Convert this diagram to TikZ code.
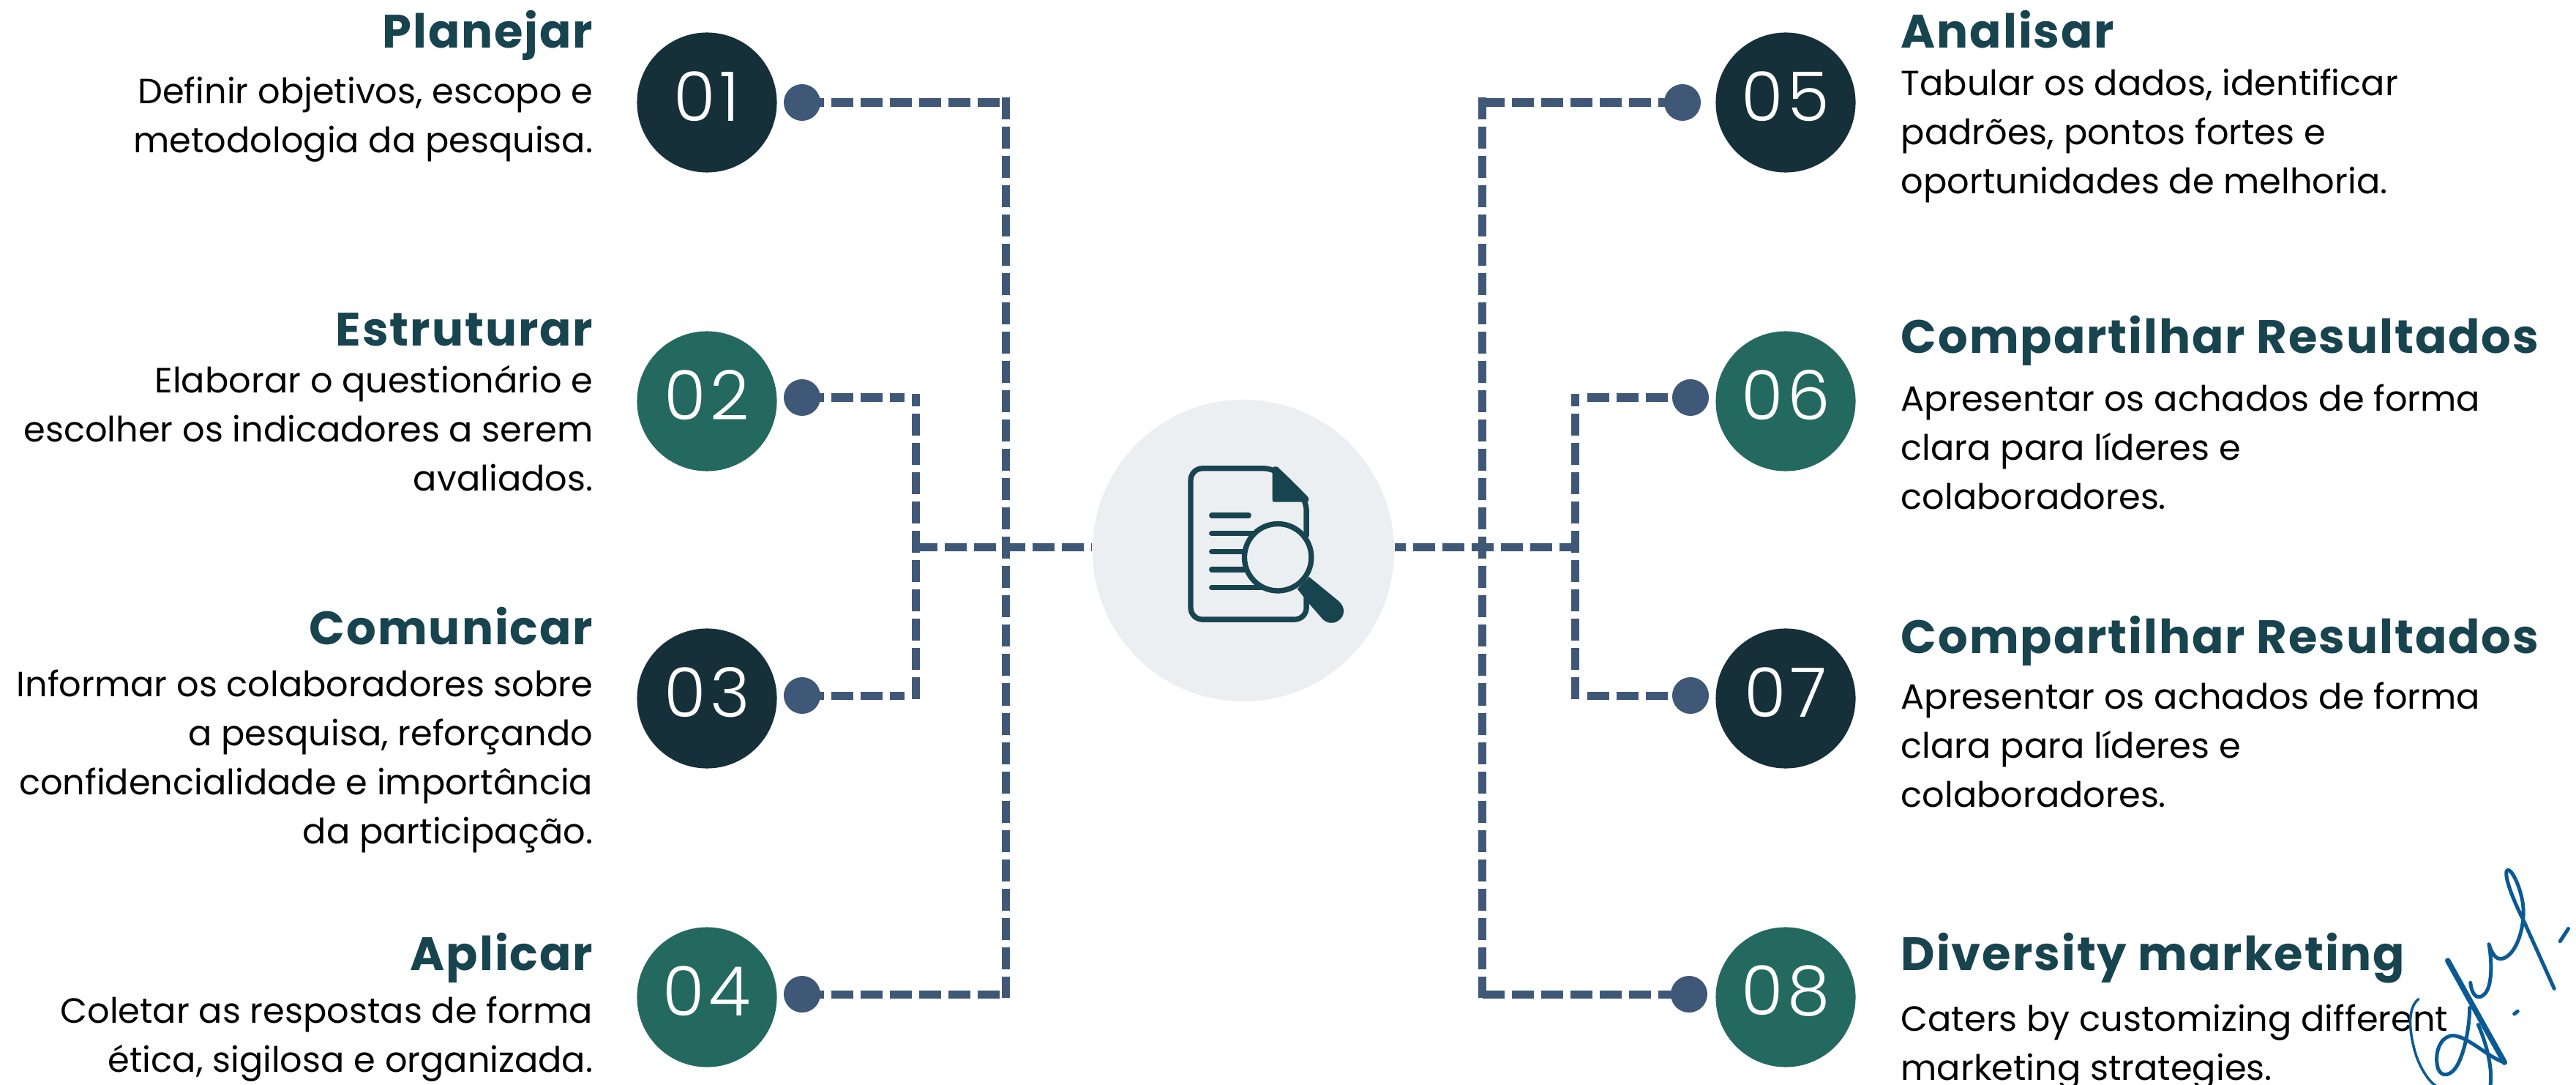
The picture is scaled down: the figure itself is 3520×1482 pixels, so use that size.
\documentclass[tikz,border=0pt]{standalone}
\usepackage{fontspec}
\setmainfont{Poppins}
\newfontfamily\titlefont[LetterSpace=3]{Poppins}
\newfontfamily\numfont[LetterSpace=6]{Poppins Light}
\definecolor{nightteal}{HTML}{16303A}
\definecolor{seateal}{HTML}{24695F}
\definecolor{dotblue}{HTML}{3F5878}
\definecolor{titleteal}{HTML}{17444F}
\definecolor{hubgrey}{HTML}{ECEFF2}
\definecolor{inkblue}{HTML}{0B5A94}
\tikzset{
    stepdisc/.style={circle,inner sep=0pt,minimum size=1.91cm},
    stepnum/.style={inner sep=0pt,text=white,font=\numfont\fontsize{26.5}{26.5}\selectfont},
    stepdot/.style={circle,inner sep=0pt,minimum size=0.5cm,fill=dotblue},
    hubdisc/.style={circle,inner sep=0pt,minimum size=4.12cm,fill=hubgrey},
    linkline/.style={draw=dotblue,line width=0.11cm,dash pattern=on 0.3cm off 0.1cm},
    steptitle/.style={inner sep=0pt,text=titleteal,font=\titlefont\bfseries\fontsize{18.2}{22}\selectfont},
    stepbody/.style={inner sep=0pt,font=\fontsize{13.6}{19.05}\selectfont},
    iconline/.style={draw=titleteal,line width=0.073cm,line cap=round},
    signline/.style={draw=inkblue,line width=0.05cm,line cap=round,line join=round}
}
\begin{document}
\begin{tikzpicture}[x=0.01cm,y=-0.01cm]
    \useasboundingbox (0,0) rectangle (3520,1482);
    \clip (0,0) rectangle (3520,1482);

    % Draw centre disc
    \node[hubdisc] (hub) at (1699,752) {};

    % Draw numbered discs and their dots
    \foreach \n/\cx/\cy/\dx/\dy/\col in {
        01/966/140/1096/140/nightteal,
        02/966/548/1096/543/seateal,
        03/966/954/1096/950/nightteal,
        04/966/1362/1096/1358/seateal,
        05/2440/140/2299/140/nightteal,
        06/2440/548/2310/543/seateal,
        07/2440/954/2310/950/nightteal,
        08/2440/1362/2308/1358/seateal} {
        \node[stepdisc,fill=\col] (c\n) at (\cx,\cy) {};
        \node[stepnum] (n\n) at (\cx,\cy-8) {\n};
        \node[stepdot] (d\n) at (\dx,\dy) {};
    }

    % Ends of the dashed lines
    \coordinate (a1) at (1369,140);
    \coordinate (a2) at (1367,1358);
    \coordinate (a3) at (1374,133);
    \coordinate (a4) at (1374,1363);
    \coordinate (b1) at (1236,543);
    \coordinate (b2) at (1236,950);
    \coordinate (b3) at (1251,538);
    \coordinate (b4) at (1251,955);
    \coordinate (bm) at (1251,747);
    \coordinate (e1) at (2026,140);
    \coordinate (e2) at (2026,1358);
    \coordinate (e3) at (2025,133);
    \coordinate (e4) at (2025,1363);
    \coordinate (f1) at (2169,543);
    \coordinate (f2) at (2169,950);
    \coordinate (f3) at (2152,538);
    \coordinate (f4) at (2152,955);
    \coordinate (fm) at (2157,747);

    % Draw dashed lines on the left
    \draw[linkline] (d01.center) -- (a1);
    \draw[linkline] (d04.center) -- (a2);
    \draw[linkline] (a3) -- (a4);
    \draw[linkline] (d02.center) -- (b1);
    \draw[linkline] (d03.center) -- (b2);
    \draw[linkline] (b4) -- (b3);
    \draw[linkline] (bm) -- (bm -| hub.west);

    % Draw dashed lines on the right
    \draw[linkline] (e1) -- (d05.center);
    \draw[linkline] (e2) -- (d08.center);
    \draw[linkline] (e3) -- (e4);
    \draw[linkline] (f1) -- (d06.center);
    \draw[linkline] (f2) -- (d07.center);
    \draw[linkline] (f4) -- (f3);
    \draw[linkline,dash phase=0.04cm] (fm) -- (fm -| hub.east);

    % Left column texts
    \node[steptitle,anchor=base east] (t01) at (811,66) {Planejar};
    \node[stepbody,anchor=north east,align=right] (x01) at (811,104) {Definir objetivos, escopo e\\metodologia da pesquisa.};
    \node[steptitle,anchor=base east] (t02) at (811,472) {Estruturar};
    \node[stepbody,anchor=north east,align=right] (x02) at (811,498) {Elaborar o questionário e\\escolher os indicadores a serem\\avaliados.};
    \node[steptitle,anchor=base east] (t03) at (811,880) {Comunicar};
    \node[stepbody,anchor=north east,align=right] (x03) at (811,914) {Informar os colaboradores sobre\\a pesquisa, reforçando\\confidencialidade e importância\\da participação.};
    \node[steptitle,anchor=base east] (t04) at (811,1325) {Aplicar};
    \node[stepbody,anchor=north east,align=right] (x04) at (811,1360) {Coletar as respostas de forma\\ética, sigilosa e organizada.};

    % Right column texts
    \node[steptitle,anchor=base west] (t05) at (2597,66) {Analisar};
    \node[stepbody,anchor=north west,align=left] (x05) at (2597,93) {Tabular os dados, identificar\\padrões, pontos fortes e\\oportunidades de melhoria.};
    \node[steptitle,anchor=base west] (t06) at (2597,482) {Compartilhar Resultados};
    \node[stepbody,anchor=north west,align=left] (x06) at (2597,524) {Apresentar os achados de forma\\clara para líderes e\\colaboradores.};
    \node[steptitle,anchor=base west] (t07) at (2597,892) {Compartilhar Resultados};
    \node[stepbody,anchor=north west,align=left] (x07) at (2597,931) {Apresentar os achados de forma\\clara para líderes e\\colaboradores.};
    \node[steptitle,anchor=base west] (t08) at (2597,1325) {Diversity marketing};
    \node[stepbody,anchor=north west,align=left] (x08) at (2597,1371) {Caters by customizing different\\marketing strategies.};

    % Draw the document icon
    \begin{scope}[shift={(1450,500)},x=0.00333cm,y=-0.00333cm]
        \draw[iconline,line cap=butt,rounded corners=0.16cm] (1007,700) -- (1007,545) -- (880,420) -- (532,420) -- (532,1040) -- (1007,1040) -- (1007,945);
        \fill[titleteal,rounded corners=0.03cm] (867,415) -- (885,410) -- (1017,540) -- (1017,558) -- (867,558) -- cycle;
        \draw[iconline] (618,613) -- (770,613);
        \draw[iconline] (618,687) -- (790,687);
        \draw[iconline] (618,761) -- (750,761);
        \draw[iconline] (618,835) -- (755,835);
        \draw[iconline] (618,909) -- (830,909);
        \fill[titleteal] (1018,865) -- (1140,965) .. controls (1170,992) and (1165,1030) .. (1135,1047) .. controls (1115,1060) and (1090,1055) .. (1075,1040) -- (1018,975) -- (970,915) -- cycle;
        \draw[iconline,fill=hubgrey] (890,785) circle (0.457cm);
    \end{scope}

    % Draw the signature
    \begin{scope}[shift={(3200,1150)},x=0.00333cm,y=-0.00333cm]
        \draw[signline,line width=0.035cm] (315,645) .. controls (270,680) and (275,770) .. (300,860) .. controls (320,930) and (360,985) .. (385,1000);
        \draw[signline,line width=0.075cm] (435,487) -- (520,640) -- (668,905);
        \draw[signline] (668,905) .. controls (600,885) and (510,790) .. (450,795) .. controls (395,805) and (380,880) .. (395,930) .. controls (410,970) and (450,960) .. (475,915) .. controls (510,850) and (525,740) .. (525,680);
        \draw[signline] (528,578) .. controls (535,640) and (565,650) .. (590,620) .. controls (620,580) and (615,480) .. (604,420) .. controls (620,470) and (640,490) .. (670,475) .. controls (720,450) and (750,350) .. (745,270) .. controls (740,200) and (700,110) .. (680,115) .. controls (665,125) and (685,200) .. (745,320) -- (872,602);
        \draw[signline] (560,750) .. controls (590,820) and (620,920) .. (610,1000);
        \draw[signline] (708,706) -- (722,695);
        \draw[signline] (896,408) -- (930,356);
    \end{scope}

\end{tikzpicture}
\end{document}
